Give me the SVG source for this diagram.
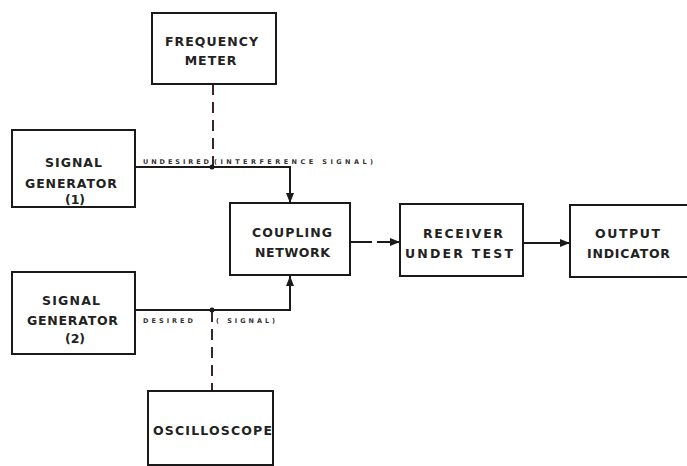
<svg xmlns="http://www.w3.org/2000/svg" width="687" height="466" viewBox="0 0 687 466">
<defs>
<style>
.box{fill:#fff;stroke:#1a1a1a;stroke-width:2}
.t{font-family:"DejaVu Sans","Liberation Sans",Arial,sans-serif;font-weight:bold;font-size:12.5px;fill:#222}
.c{text-anchor:middle}
.s{font-family:"DejaVu Sans","Liberation Sans",Arial,sans-serif;font-weight:bold;font-size:6.5px;fill:#333}
.ln{fill:none;stroke:#1a1a1a;stroke-width:2}
.dash{fill:none;stroke:#3a2626;stroke-width:2;stroke-dasharray:11 7}
</style>
<marker id="ah" viewBox="0 0 10 10" refX="10" refY="5" markerWidth="10" markerHeight="10" markerUnits="userSpaceOnUse" orient="auto">
<path d="M0,1 L10,5 L0,9 Z" fill="#1a1a1a"/>
</marker>
</defs>
<rect width="687" height="466" fill="#fff"/>
<g id="connectors">
<path class="dash" d="M213,84 V166"/>
<path class="dash" d="M212,311 V391"/>
<path class="ln" d="M135,167 H290 V203" marker-end="url(#ah)"/>
<path class="ln" d="M135,310 H290 V276" marker-end="url(#ah)"/>
<circle cx="212" cy="167" r="2.5" fill="#1a1a1a"/>
<circle cx="212" cy="310" r="2.5" fill="#1a1a1a"/>
<path class="ln" d="M350,242 H372"/>
<path class="ln" d="M377,242 H400" marker-end="url(#ah)"/>
<path class="ln" d="M523,243 H570" marker-end="url(#ah)"/>
<text class="s" x="143" y="164" textLength="66" lengthAdjust="spacing">UNDESIRED</text>
<text class="s" x="214" y="164" textLength="159" lengthAdjust="spacing">(INTERFERENCE SIGNAL)</text>
<text class="s" x="143" y="323" textLength="50" lengthAdjust="spacing">DESIRED</text>
<text class="s" x="216" y="323" textLength="59" lengthAdjust="spacing">( SIGNAL)</text>
</g>
<g id="frequency-meter">
<rect class="box" x="152" y="13" width="124" height="71"/>
<text class="t" x="165" y="46" textLength="93" lengthAdjust="spacing">FREQUENCY</text>
<text class="t c" x="211" y="65" letter-spacing="1">METER</text>
</g>
<g id="signal-generator-1">
<rect class="box" x="12" y="130" width="123" height="77"/>
<text class="t" x="45" y="167" textLength="57" lengthAdjust="spacing">SIGNAL</text>
<text class="t" x="25" y="188" textLength="92" lengthAdjust="spacing">GENERATOR</text>
<text class="t c" x="75" y="204">(1)</text>
</g>
<g id="coupling-network">
<rect class="box" x="230" y="203" width="120" height="72"/>
<text class="t" x="252" y="237" textLength="80" lengthAdjust="spacing">COUPLING</text>
<text class="t" x="255" y="257" textLength="75" lengthAdjust="spacing">NETWORK</text>
</g>
<g id="receiver-under-test">
<rect class="box" x="400" y="204" width="123" height="72"/>
<text class="t" x="423" y="238" textLength="80" lengthAdjust="spacing">RECEIVER</text>
<text class="t" x="405" y="258" textLength="108" lengthAdjust="spacing">UNDER TEST</text>
</g>
<g id="output-indicator">
<rect class="box" x="570" y="205" width="120" height="72"/>
<text class="t" x="595" y="238" textLength="65" lengthAdjust="spacing">OUTPUT</text>
<text class="t" x="587" y="258" textLength="83" lengthAdjust="spacing">INDICATOR</text>
</g>
<g id="signal-generator-2">
<rect class="box" x="12" y="272" width="123" height="82"/>
<text class="t" x="42" y="305" textLength="58" lengthAdjust="spacing">SIGNAL</text>
<text class="t" x="27" y="325" textLength="91" lengthAdjust="spacing">GENERATOR</text>
<text class="t c" x="75" y="343">(2)</text>
</g>
<g id="oscilloscope">
<rect class="box" x="148" y="391" width="125" height="74"/>
<text class="t" x="153" y="435" textLength="119" lengthAdjust="spacing">OSCILLOSCOPE</text>
</g>
</svg>
